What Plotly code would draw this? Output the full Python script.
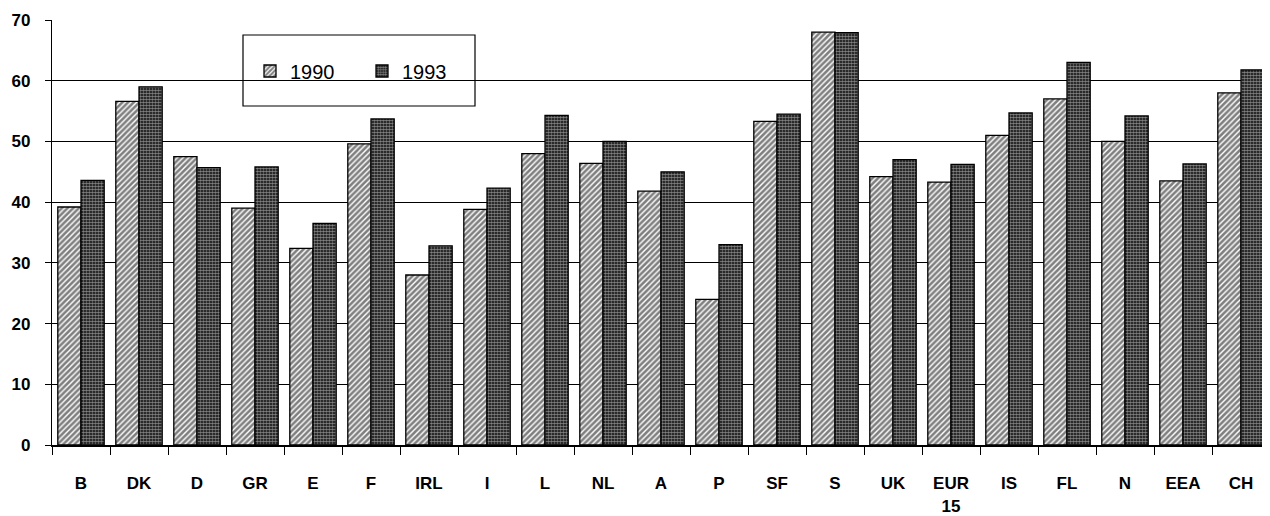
import plotly.graph_objects as go

categories = ["B", "DK", "D", "GR", "E", "F", "IRL", "I", "L", "NL", "A", "P",
              "SF", "S", "UK", "EUR<br>15", "IS", "FL", "N", "EEA", "CH"]
v1990 = [39.2, 56.6, 47.5, 39.0, 32.4, 49.6, 28.0, 38.8, 48.0, 46.4, 41.8, 24.0,
         53.3, 68.0, 44.2, 43.3, 51.0, 57.0, 50.0, 43.5, 58.0]
v1993 = [43.6, 59.0, 45.7, 45.8, 36.5, 53.7, 32.8, 42.3, 54.3, 50.0, 45.0, 33.0,
         54.5, 67.9, 47.0, 46.2, 54.7, 63.0, 54.2, 46.3, 61.8]
y_ticks = [0, 10, 20, 30, 40, 50, 60, 70]

FONT = "Liberation Sans, Arial, sans-serif"

# page body has an 8px default margin, so the figure is sized to fit inside it
fig = go.Figure()
fig.add_trace(go.Bar(
    name="1990", x=categories, y=v1990,
    marker=dict(color="white", line=dict(color="black", width=1.3),
                pattern=dict(shape="/", fgcolor="black", bgcolor="white",
                             size=4, solidity=0.65)),
))
fig.add_trace(go.Bar(
    name="1993", x=categories, y=v1993,
    marker=dict(color="black", line=dict(color="black", width=1.3),
                pattern=dict(shape=".", fgcolor="white", bgcolor="black",
                             size=3, solidity=0.65)),
))

PW, PH = 1218, 425
fig.update_layout(
    width=1262, height=508,
    margin=dict(l=44, r=0, t=12, b=71, autoexpand=False),
    plot_bgcolor="white", paper_bgcolor="white",
    barmode="group", bargap=0.2, bargroupgap=0.0,
    font=dict(family=FONT, color="black"),
    showlegend=True,
    legend=dict(orientation="h", x=(250 - 52) / PW, xanchor="left",
                y=(445 - 71) / PH, yanchor="middle",
                bgcolor="rgba(0,0,0,0)", borderwidth=0,
                font=dict(size=20, family=FONT),
                itemwidth=30, entrywidth=67),
    shapes=[dict(type="rect", xref="paper", yref="paper",
                 x0=(243 - 52) / PW, x1=(475 - 52) / PW,
                 y0=(445 - 106) / PH, y1=(445 - 35) / PH,
                 line=dict(color="black", width=1.2), fillcolor="white",
                 layer="below")],
)
fig.update_xaxes(
    automargin=False,
    showline=True, linecolor="black", linewidth=2,
    ticks="outside", tickson="boundaries", ticklen=8, tickcolor="black",
    ticklabelstandoff=22,
    tickfont=dict(size=17, family=FONT, weight="bold"),
    showgrid=False,
)
fig.update_yaxes(
    automargin=False,
    range=[0, 70], tickvals=y_ticks,
    showline=True, linecolor="black", linewidth=1.2,
    ticks="outside", ticklen=6, tickcolor="black",
    ticklabelstandoff=11,
    tickfont=dict(size=17, family=FONT, weight="bold"),
    showgrid=True, gridcolor="black", gridwidth=1.3,
    zeroline=False,
)

fig.write_html("out.html")
